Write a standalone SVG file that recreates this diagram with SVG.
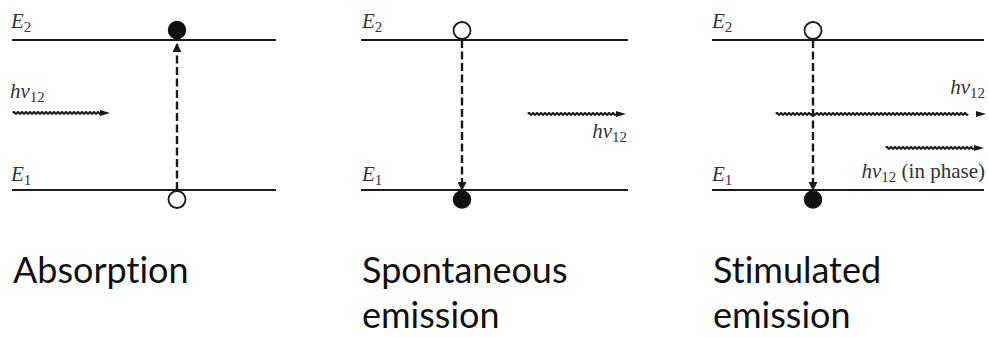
<svg xmlns="http://www.w3.org/2000/svg" width="989" height="338" viewBox="0 0 989 338">
<style>
.lvl{stroke:#1a1a1a;stroke-width:2;fill:none}
.tr{stroke:#1a1a1a;stroke-width:2.4;stroke-dasharray:8,3.5;fill:none}
.wave{stroke:#1a1a1a;stroke-width:2;fill:none}
.head{fill:#1a1a1a}
.full{fill:#111;stroke:#111;stroke-width:1.5}
.empty{fill:#fff;stroke:#1a1a1a;stroke-width:1.8}
.lbl{font-family:"Liberation Serif","Times New Roman",serif;font-size:21px;fill:#333}
.it{font-style:italic}
.sub{font-size:15px;font-style:normal}
.cap{font-family:Lato,"Open Sans",sans-serif;font-size:36px;fill:#111;font-variant-ligatures:none}
</style>
<defs>
<marker id="ah" viewBox="0 0 10 10" refX="9" refY="5" markerWidth="9" markerHeight="9" markerUnits="userSpaceOnUse" orient="auto"><path d="M0,0 L10,5 L0,10 Z" fill="#1a1a1a"/></marker>
<path id="w88" d="M0,0 q1,-1.8 2,0 t2,0 t2,0 t2,0 t2,0 t2,0 t2,0 t2,0 t2,0 t2,0 t2,0 t2,0 t2,0 t2,0 t2,0 t2,0 t2,0 t2,0 t2,0 t2,0 t2,0 t2,0 t2,0 t2,0 t2,0 t2,0 t2,0 t2,0 t2,0 t2,0 t2,0 t2,0 t2,0 t2,0 t2,0 t2,0 t2,0 t2,0 t2,0 t2,0 t2,0 t2,0 t2,0 t2,0"/>
<path id="w200" d="M0,0 q1,-1.8 2,0 t2,0 t2,0 t2,0 t2,0 t2,0 t2,0 t2,0 t2,0 t2,0 t2,0 t2,0 t2,0 t2,0 t2,0 t2,0 t2,0 t2,0 t2,0 t2,0 t2,0 t2,0 t2,0 t2,0 t2,0 t2,0 t2,0 t2,0 t2,0 t2,0 t2,0 t2,0 t2,0 t2,0 t2,0 t2,0 t2,0 t2,0 t2,0 t2,0 t2,0 t2,0 t2,0 t2,0 t2,0 t2,0 t2,0 t2,0 t2,0 t2,0 t2,0 t2,0 t2,0 t2,0 t2,0 t2,0 t2,0 t2,0 t2,0 t2,0 t2,0 t2,0 t2,0 t2,0 t2,0 t2,0 t2,0 t2,0 t2,0 t2,0 t2,0 t2,0 t2,0 t2,0 t2,0 t2,0 t2,0 t2,0 t2,0 t2,0 t2,0 t2,0 t2,0 t2,0 t2,0 t2,0 t2,0 t2,0 t2,0 t2,0 t2,0 t2,0 t2,0 t2,0 t2,0 t2,0"/>
</defs>

<g id="absorption">
  <line class="lvl" x1="12" y1="40" x2="276" y2="40"/>
  <line class="lvl" x1="12" y1="190" x2="276" y2="190"/>
  <text class="lbl" x="11" y="28"><tspan class="it">E</tspan><tspan class="sub" dy="4">2</tspan></text>
  <text class="lbl" x="11" y="181"><tspan class="it">E</tspan><tspan class="sub" dy="4">1</tspan></text>
  <text class="lbl" x="10" y="98"><tspan class="it">hν</tspan><tspan class="sub" dy="4">12</tspan></text>
  <text class="cap" x="13" y="283">Absorption</text>
</g>

<g id="spontaneous">
  <line class="lvl" x1="361" y1="40" x2="628" y2="40"/>
  <line class="lvl" x1="361" y1="190" x2="628" y2="190"/>
  <text class="lbl" x="362" y="28"><tspan class="it">E</tspan><tspan class="sub" dy="4">2</tspan></text>
  <text class="lbl" x="362" y="181"><tspan class="it">E</tspan><tspan class="sub" dy="4">1</tspan></text>
  <text class="lbl" x="627" y="138" text-anchor="end"><tspan class="it">hν</tspan><tspan class="sub" dy="4">12</tspan></text>
  <text class="cap" x="362" y="283">Spontaneous</text>
  <text class="cap" x="362" y="328">emission</text>
</g>

<g id="stimulated">
  <line class="lvl" x1="712" y1="40" x2="984" y2="40"/>
  <line class="lvl" x1="712" y1="190" x2="984" y2="190"/>
  <text class="lbl" x="712" y="28"><tspan class="it">E</tspan><tspan class="sub" dy="4">2</tspan></text>
  <text class="lbl" x="712" y="181"><tspan class="it">E</tspan><tspan class="sub" dy="4">1</tspan></text>
  <text class="lbl" x="985" y="94" text-anchor="end"><tspan class="it">hν</tspan><tspan class="sub" dy="4">12</tspan></text>
  <text class="lbl" x="985" y="178" text-anchor="end"><tspan class="it">hν</tspan><tspan class="sub" dy="4">12</tspan><tspan dy="-4"> (in phase)</tspan></text>
  <text class="cap" x="713" y="283">Stimulated</text>
  <text class="cap" x="713" y="328">emission</text>
</g>

<g id="connectors">
  <line class="tr" x1="177" y1="190" x2="177" y2="44" marker-end="url(#ah)"/>
  <line class="tr" x1="462" y1="40" x2="462" y2="190" marker-end="url(#ah)"/>
  <line class="tr" x1="813" y1="40" x2="813" y2="190" marker-end="url(#ah)"/>
  <use href="#w88" class="wave" x="13" y="113"/>
  <polygon class="head" points="100,110 110,113 100,116"/>
  <use href="#w88" class="wave" x="528" y="114"/>
  <polygon class="head" points="616,111 626,114 616,117"/>
  <use href="#w200" class="wave" x="776" y="114"/>
  <polygon class="head" points="976,111 986,114 976,117"/>
  <use href="#w88" class="wave" x="886" y="148"/>
  <polygon class="head" points="974,145 984,148 974,151"/>
</g>

<g id="states">
  <circle class="full" cx="177" cy="30" r="8.5"/>
  <circle class="empty" cx="177" cy="199.5" r="8.5"/>
  <circle class="empty" cx="462" cy="30.5" r="8.5"/>
  <circle class="full" cx="462" cy="199.5" r="8.5"/>
  <circle class="empty" cx="813" cy="30.5" r="8.5"/>
  <circle class="full" cx="813" cy="199.5" r="8.5"/>
</g>
</svg>
